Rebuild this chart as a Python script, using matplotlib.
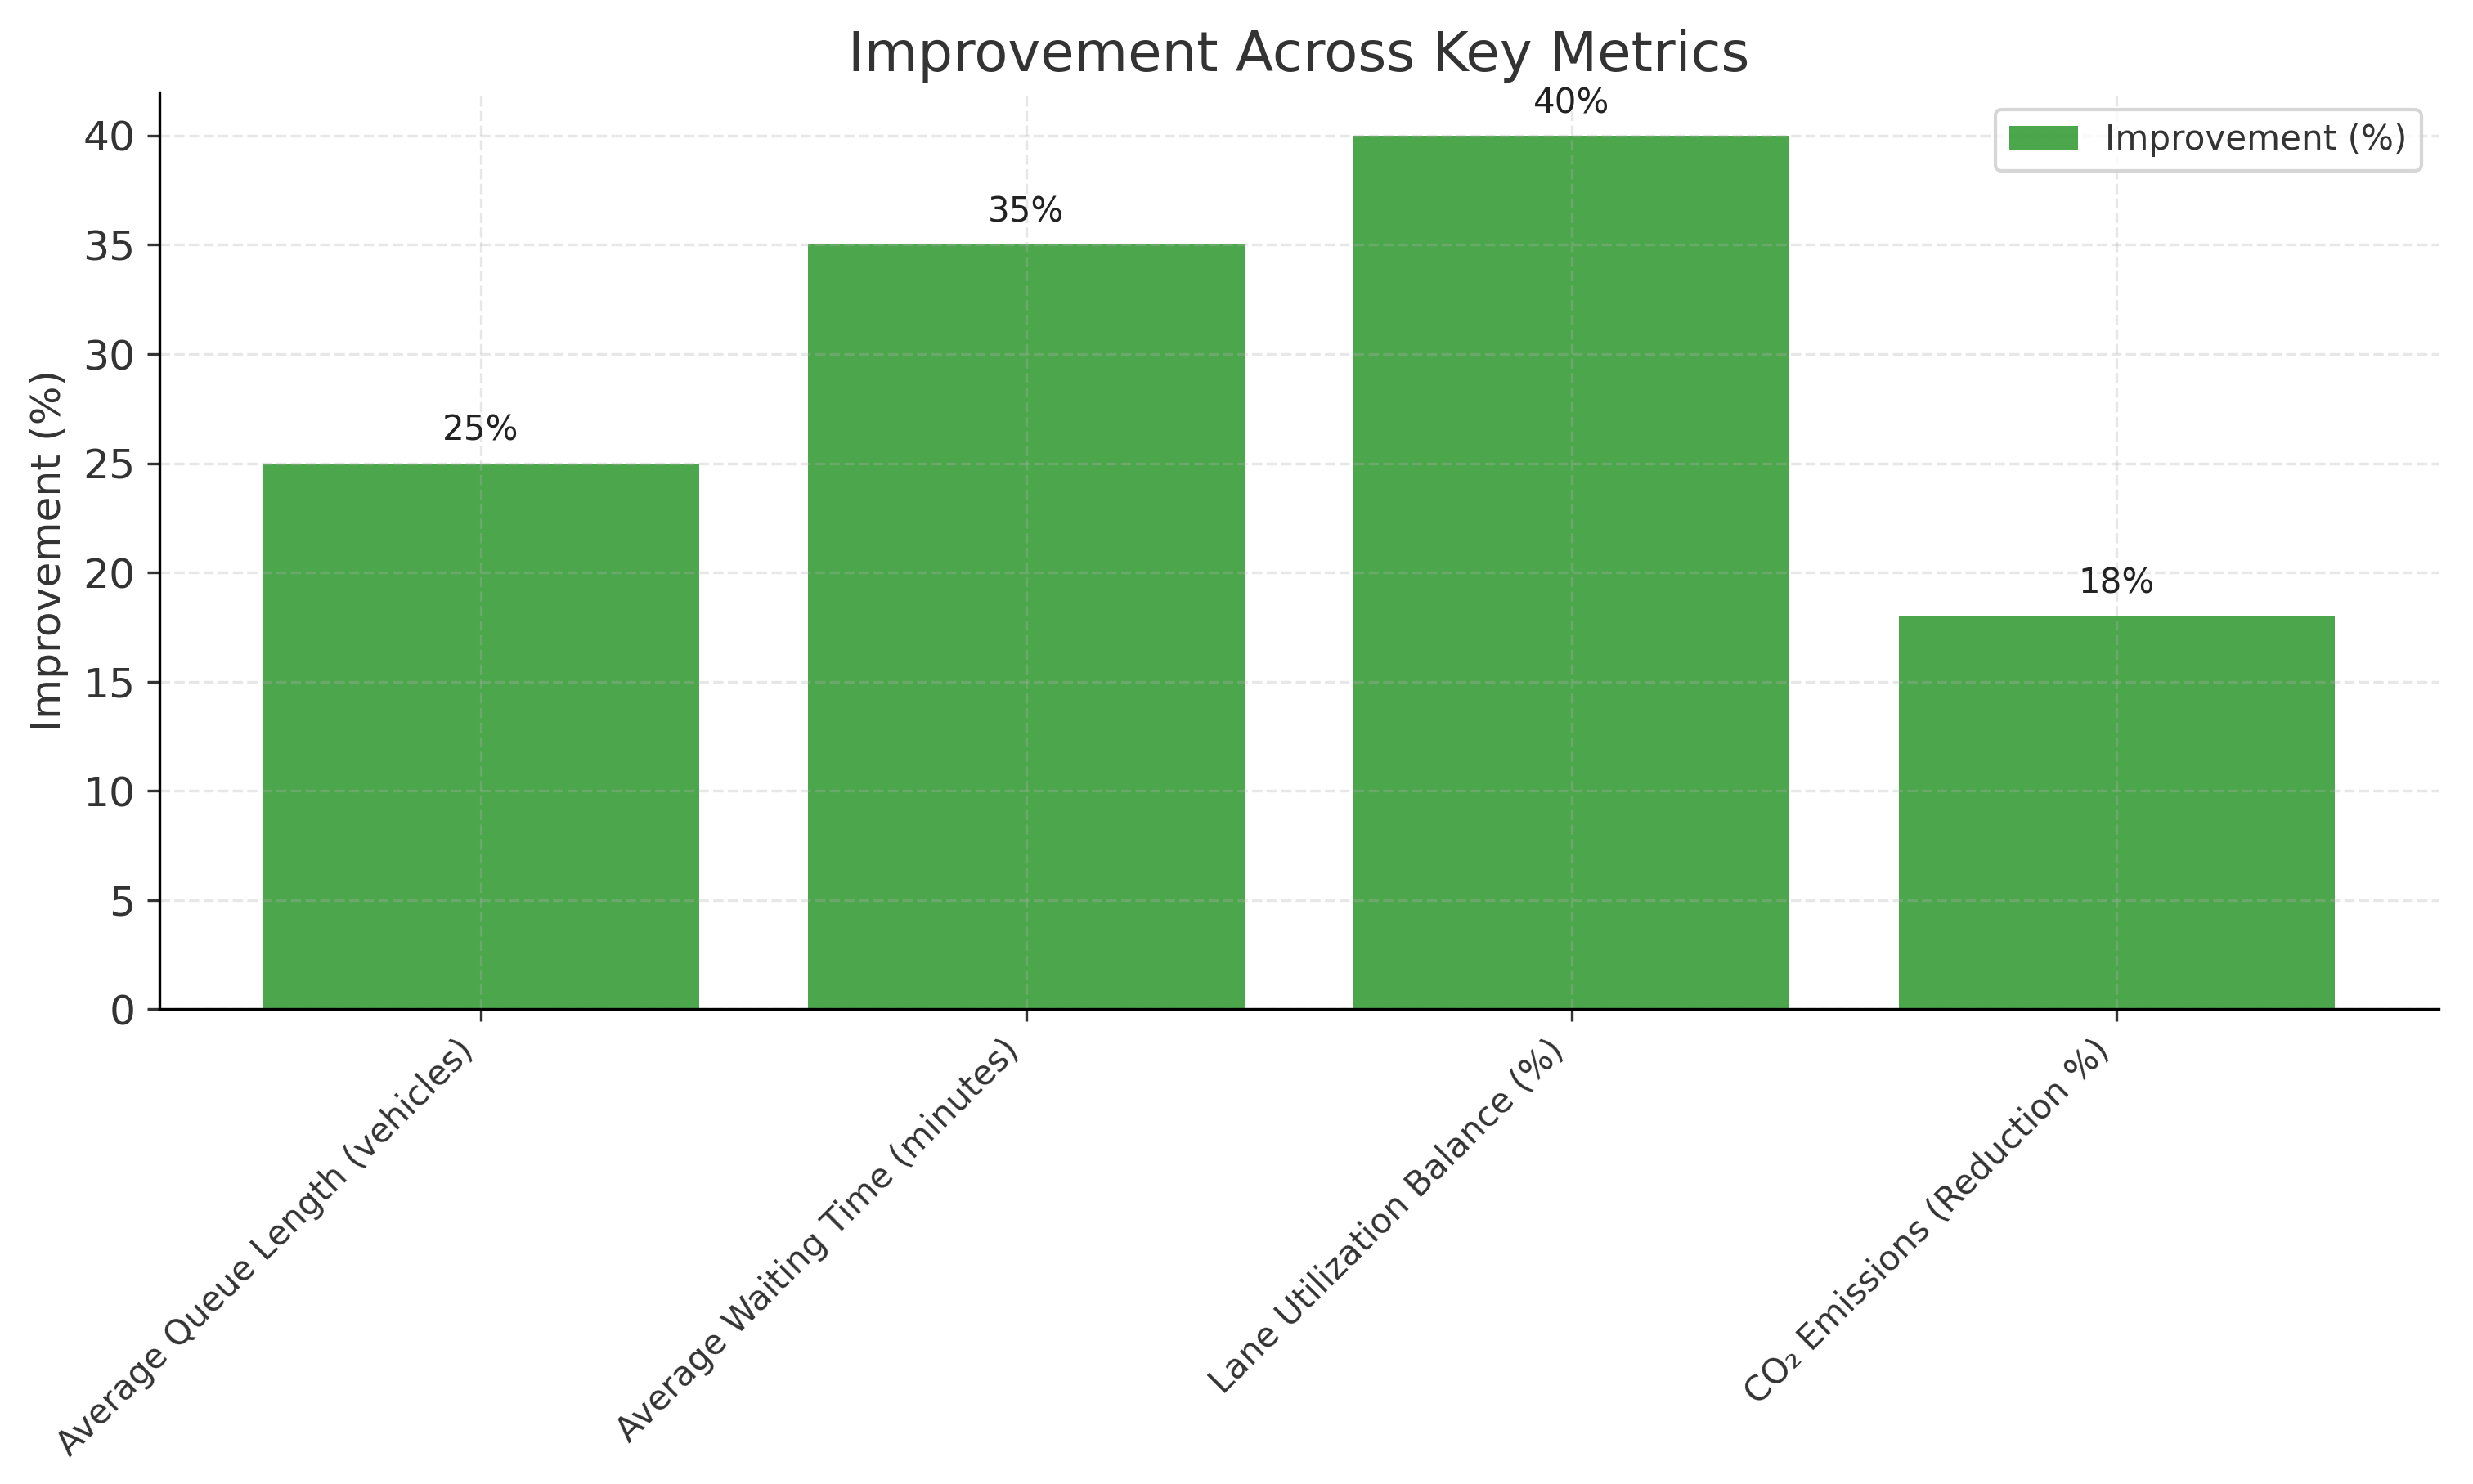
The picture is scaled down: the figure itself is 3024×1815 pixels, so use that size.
import numpy as np
import matplotlib
matplotlib.use('Agg')
import matplotlib.pyplot as plt

metrics = ['Average Queue Length (vehicles)', 'Average Waiting Time (minutes)',
           'Lane Utilization Balance (%)', 'CO\u2082 Emissions (Reduction %)']
improvement = [25, 35, 40, 18]

fig, ax = plt.subplots(figsize=(10, 6.002), dpi=302.4)
x = np.arange(len(metrics))
bars = ax.bar(x, improvement, width=0.8, color='green', alpha=0.7, label='Improvement (%)')

for b, v in zip(bars, improvement):
    ax.text(b.get_x() + b.get_width() / 2, v + 0.7, f'{v}%',
            ha='center', va='bottom', fontsize=10, color='#222222')

ax.set_title('Improvement Across Key Metrics', fontsize=16, color='#333333')
ax.set_ylabel('Improvement (%)', fontsize=12, color='#333333')
ax.set_xticks(x)
ax.set_xticklabels(metrics, rotation=45, ha='right', fontsize=10, color='#333333')
ax.tick_params(axis='y', labelsize=12, colors='#333333')
ax.tick_params(axis='x', colors='#333333')
ax.grid(True, linestyle='--', alpha=0.3)
ax.spines['top'].set_visible(False)
ax.spines['right'].set_visible(False)
ax.legend(loc='upper right', fontsize=10, labelcolor='#333333')

fig.subplots_adjust(left=0.0644, right=0.986, top=0.938, bottom=0.320)
fig.savefig('out.png')
